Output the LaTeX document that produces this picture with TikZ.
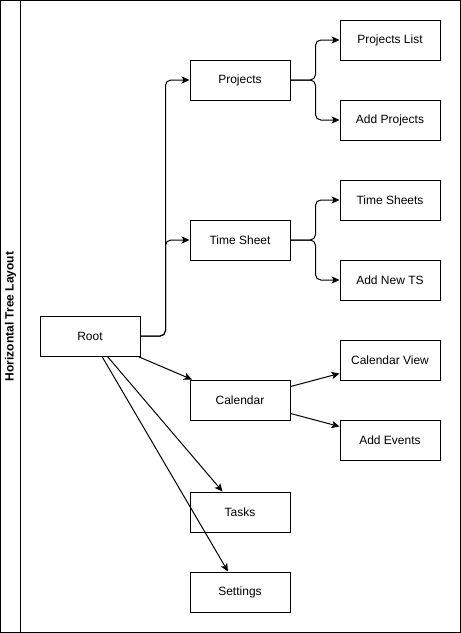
\documentclass[tikz,border=0pt]{standalone}
\usepackage{fontspec}
\setmainfont{Liberation Sans}
\usetikzlibrary{arrows.meta}

\begin{document}
\begin{tikzpicture}[x=0.75pt,y=-0.75pt,
    box/.style={draw,line width=0.75pt,minimum width=75pt,minimum height=30pt,
      inner sep=0pt,font=\fontsize{9}{11}\selectfont},
    link/.style={line width=0.75pt,-{Stealth[length=6pt,width=5.5pt,inset=1.5pt]}},
    elbow/.style={link,rounded corners=4pt}]
  \useasboundingbox (0,0) rectangle (461,633);

  % Frame
  \draw[line width=0.75pt] (0.5,0.5) rectangle (460.5,632.5);
  \draw[line width=0.75pt] (20.5,0.5) -- (20.5,632.5);
  \node[rotate=90,font=\bfseries\fontsize{9}{11}\selectfont] (title) at (10.5,316.5)
    {Horizontal Tree Layout};

  % Tree
  \node[box] (root) at (90,336) {Root};
  \node[box] (projects) at (240,80) {Projects};
  \node[box] (projlist) at (390,40) {Projects List};
  \node[box] (addproj) at (390,120) {Add Projects};
  \node[box] (timesheet) at (240,240) {Time Sheet};
  \node[box] (timesheets) at (390,200) {Time Sheets};
  \node[box] (addts) at (390,280) {Add New TS};
  \node[box] (calendar) at (240,400) {Calendar};
  \node[box] (calview) at (390,360) {Calendar View};
  \node[box] (addevents) at (390,440) {Add Events};
  \node[box] (tasks) at (240,512) {Tasks};
  \node[box] (settings) at (240,592) {Settings};

  \draw[elbow] (root.east) -- ++(25,0) |- (projects.west);
  \draw[elbow] (root.east) -- ++(25,0) |- (timesheet.west);
  \draw[link] (root) -- (calendar);
  \draw[link] (root) -- (tasks);
  \draw[link] (root) -- (settings);

  \draw[elbow] (projects.east) -- ++(25,0) |- (projlist.west);
  \draw[elbow] (projects.east) -- ++(25,0) |- (addproj.west);
  \draw[elbow] (timesheet.east) -- ++(25,0) |- (timesheets.west);
  \draw[elbow] (timesheet.east) -- ++(25,0) |- (addts.west);
  \draw[link] (calendar) -- (calview);
  \draw[link] (calendar) -- (addevents);
\end{tikzpicture}
\end{document}
